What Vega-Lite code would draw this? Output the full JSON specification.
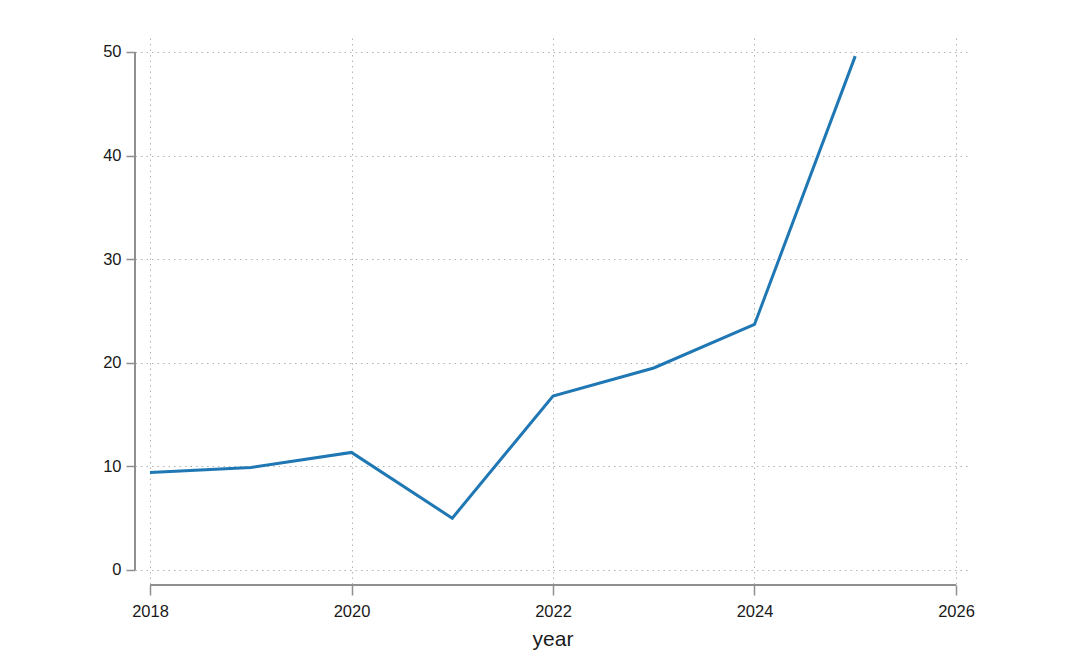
{
  "$schema": "https://vega.github.io/schema/vega-lite/v6.json",
  "autosize": {"type": "none"},
  "padding": {"left": 135, "top": 38, "right": 110, "bottom": 70},
  "width": 835,
  "height": 547,
  "background": "white",
  "config": {
    "view": {"stroke": null},
    "font": "Liberation Sans"
  },
  "data": {
    "values": [
      {"year": 2018, "value": 9.4},
      {"year": 2019, "value": 9.9},
      {"year": 2020, "value": 11.35},
      {"year": 2021, "value": 5.0},
      {"year": 2022, "value": 16.8},
      {"year": 2023, "value": 19.5},
      {"year": 2024, "value": 23.7},
      {"year": 2025, "value": 49.6}
    ]
  },
  "layer": [
    {
      "mark": {"type": "line", "color": "#1f77b4", "strokeWidth": 3},
      "encoding": {
        "x": {
          "field": "year", "type": "quantitative",
          "scale": {"domain": [2017.851, 2026.139], "nice": false, "zero": false},
          "axis": {
            "title": "year",
            "values": [2018, 2020, 2022, 2024, 2026],
            "format": "d",
            "domain": false,
            "grid": true,
            "gridColor": "#b4b4b4",
            "gridDash": [1.5, 4],
            "gridWidth": 1,
            "tickColor": "#8f8f8f",
            "tickWidth": 1.5,
            "tickSize": 10,
            "labelFont": "Liberation Sans",
            "labelFontSize": 16.5,
            "labelColor": "#1a1a1a",
            "labelPadding": 8,
            "titleFont": "Liberation Sans",
            "titleFontSize": 21,
            "titleFontWeight": "normal",
            "titleColor": "#1a1a1a",
            "titlePadding": 9
          }
        },
        "y": {
          "field": "value", "type": "quantitative",
          "scale": {"domain": [-1.448, 51.35], "nice": false, "zero": false},
          "axis": {
            "title": null,
            "values": [0, 10, 20, 30, 40, 50],
            "domain": false,
            "grid": true,
            "gridColor": "#b4b4b4",
            "gridDash": [1.5, 4],
            "gridWidth": 1,
            "tickColor": "#8f8f8f",
            "tickWidth": 1.5,
            "tickSize": 9,
            "labelFont": "Liberation Sans",
            "labelFontSize": 16.5,
            "labelColor": "#1a1a1a",
            "labelPadding": 5
          }
        }
      }
    },
    {
      "mark": {"type": "rule", "color": "#8f8f8f", "strokeWidth": 1.5},
      "encoding": {
        "x": {"datum": 2017.851, "type": "quantitative"},
        "y": {"datum": 0, "type": "quantitative"},
        "y2": {"datum": 50}
      }
    },
    {
      "mark": {"type": "rule", "color": "#8f8f8f", "strokeWidth": 1.5},
      "encoding": {
        "y": {"datum": -1.448, "type": "quantitative"},
        "x": {"datum": 2018, "type": "quantitative"},
        "x2": {"datum": 2026}
      }
    }
  ]
}
